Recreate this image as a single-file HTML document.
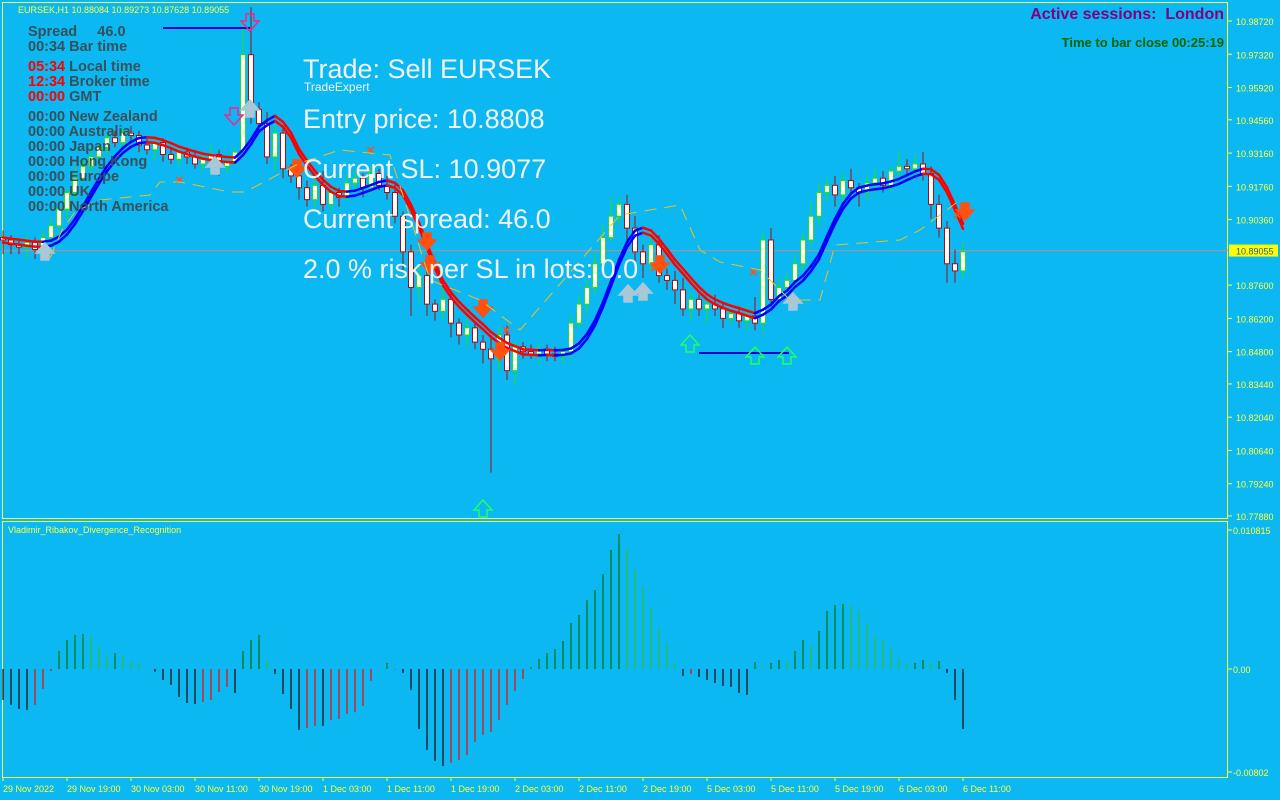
<!DOCTYPE html>
<html><head><meta charset="utf-8">
<style>
html,body{margin:0;padding:0;width:1280px;height:800px;overflow:hidden;background:#0cb8f2;font-family:"Liberation Sans",Arial,sans-serif;}
svg{position:absolute;left:0;top:0}
.info{position:absolute;font-weight:bold;font-size:14.5px;color:#37505a;white-space:nowrap;line-height:15px}
.red{color:#ff0000}
.big{position:absolute;left:303px;font-size:27px;color:#f2f2f2;white-space:nowrap}
</style></head>
<body>
<svg id="chart" width="1280" height="800"></svg>

<div class="info" style="left:28px;top:25px">Spread&nbsp;&nbsp;&nbsp;&nbsp;&nbsp;46.0</div>
<div class="info" style="left:28px;top:40px">00:34 Bar time</div>
<div class="info" style="left:28px;top:60px"><span class="red">05:34</span> Local time</div>
<div class="info" style="left:28px;top:75px"><span class="red">12:34</span> Broker time</div>
<div class="info" style="left:28px;top:90px"><span class="red">00:00</span> GMT</div>
<div class="info" style="left:28px;top:110px">00:00 New Zealand</div>
<div class="info" style="left:28px;top:125px">00:00 Australia</div>
<div class="info" style="left:28px;top:140px">00:00 Japan</div>
<div class="info" style="left:28px;top:155px">00:00 Hong Kong</div>
<div class="info" style="left:28px;top:170px">00:00 Europe</div>
<div class="info" style="left:28px;top:185px">00:00 UK</div>
<div class="info" style="left:28px;top:200px">00:00 North America</div>

<div class="big" style="top:54px">Trade: Sell EURSEK</div>
<div style="position:absolute;left:304px;top:80px;font-size:12px;color:#f2f2f2">TradeExpert</div>
<div class="big" style="top:104px">Entry price: 10.8808</div>
<div class="big" style="top:154px">Current SL: 10.9077</div>
<div class="big" style="top:204px">Current spread: 46.0</div>
<div class="big" style="top:254px">2.0 % risk per SL in lots: 0.0</div>

<div style="position:absolute;right:56px;top:6px;font-size:16px;font-weight:bold;color:#800080;white-space:nowrap">Active sessions:&nbsp; London</div>
<div style="position:absolute;right:56px;top:35px;font-size:13px;font-weight:bold;color:#006400;white-space:nowrap">Time to bar close 00:25:19</div>

<script>
// ---- data ----
const closes=[10.895,10.893,10.892,10.894,10.891,10.896,
10.901,10.908,10.915,10.921,10.926,10.930,10.934,10.938,10.936,10.940,10.939,
10.935,10.933,10.936,10.931,10.929,10.932,
10.930,10.927,10.929,10.931,10.926,10.928,10.932,
10.973,10.950,10.944,10.930,10.940,
10.925,10.922,10.917,10.912,10.918,10.910,
10.915,10.913,10.919,10.921,10.917,10.923,10.918,10.915,
10.905,10.890,10.875,10.880,
10.868,10.865,10.870,10.860,10.855,10.858,10.852,10.849,
10.845,10.855,10.840,10.850,
10.848,10.847,10.849,10.847,10.846,10.848,
10.860,10.868,10.875,10.885,10.896,10.905,10.910,
10.900,10.890,10.885,10.893,10.880,
10.878,10.874,10.866,10.870,10.866,10.868,
10.866,10.862,10.864,10.861,10.863,
10.860,10.895,10.870,10.875,
10.878,10.885,10.895,10.905,10.915,10.918,
10.914,10.920,10.917,10.915,10.919,10.921,10.918,10.924,10.926,10.925,10.927,10.923,
10.910,10.900,10.885,10.882,10.890];
const wickUp=[3,2,2,3,2,3, 3,4,2,5,3,4,2,2,3,2,3, 2,3,2,2,3,2, 2,3,2,4,2,3,2, 14,20,3,5,4, 3,2,4,3,5,6, 3,2,4,3,2,3,2,4, 4,2,3,4, 3,2,5,3,2,4,2,3, 6,3,4,2, 2,3,2,2,3,2, 3,4,3,5,6,8,3, 4,5,3,6,4, 3,4,5,3,2,3, 4,3,2,3,4, 8,3,5,4, 3,4,3,6,4,3, 4,3,5,2,3,4,3,2,6,3,4,5, 3,4,3,6,4];
const wickDn=[6,4,3,5,4,3, 3,2,4,3,2,3,4,3,2,3,2, 3,2,4,3,2,3, 3,2,3,2,4,3,2, 3,6,4,3,6, 4,3,5,3,4,3, 3,4,2,3,4,3,2,3, 3,8,12,6, 5,4,3,6,4,5,3,6, 48,5,4,6, 3,2,4,3,2,3, 3,2,4,3,3,2,4, 5,4,6,3,3, 4,6,3,5,3,6, 3,4,2,3,4, 3,4,3,2, 3,4,3,2,4,3, 5,4,3,6,3,4,3,3,4,2,3,3, 6,4,8,5,3];
const divVals=[-241,-280,-311,-319,-280,-156,-16,140,226,265,272,257,171,93,124,109,62,47,2,-23,
-86,-124,-218,-265,-272,-257,-241,-179,-140,-187,140,226,265,62,-39,-195,-311,-475,-459,-443,
-443,-397,-389,-350,-335,-288,-93,1,47,-2,-31,-163,-467,-630,-716,-755,-731,-708,-669,-568,
-513,-490,-397,-280,-171,-78,16,78,124,156,218,358,420,537,615,739,926,1050,934,770,
638,482,319,202,47,-54,-39,-62,-86,-109,-132,-140,-187,-202,54,16,47,70,62,140,
226,187,296,451,498,506,498,451,350,249,226,156,78,39,47,70,54,62,-31,-241,-467]; // x1e-5
const priceTicks=[10.98720,10.97320,10.95920,10.94560,10.93160,10.91760,10.90360,10.87600,10.86200,10.84800,10.83440,10.82040,10.80640,10.79240,10.77880];
const timeLabels=["29 Nov 2022","29 Nov 19:00","30 Nov 03:00","30 Nov 11:00","30 Nov 19:00","1 Dec 03:00","1 Dec 11:00","1 Dec 19:00","2 Dec 03:00","2 Dec 11:00","2 Dec 19:00","5 Dec 03:00","5 Dec 11:00","5 Dec 19:00","6 Dec 03:00","6 Dec 11:00"];
const currentPrice=10.89055;

// ---- axes ----
const svg=document.getElementById('chart');const NS='http://www.w3.org/2000/svg';
function X(i){return 3+8*i;}
function Y(p){return 21+(10.98720-p)*(495/0.2084);}
function YD(v){return 530+(0.010815-v*1e-5)*(242/0.018835);}
function mk(t,a,parent){const e=document.createElementNS(NS,t);for(const k in a)e.setAttribute(k,a[k]);(parent||svg).appendChild(e);return e;}

let e;
e=mk('rect',{x:2.5,y:2.5,width:1225,height:516,fill:'none',stroke:'#ffff40','stroke-width':1});

e=mk('rect',{x:2.5,y:521.5,width:1225,height:256,fill:'none',stroke:'#ffff40','stroke-width':1});


e=mk('text',{x:18,y:13,fill:'#ffff40','font-size':9,'font-family':'Liberation Sans'});e.textContent='EURSEK,H1  10.88084 10.89273 10.87628 10.89055';

e=mk('text',{x:8,y:533,fill:'#ffff40','font-size':9,'font-family':'Liberation Sans'});e.textContent='Vladimir_Ribakov_Divergence_Recognition';


priceTicks.forEach(p=>{const y=Y(p);
 e=mk('line',{x1:1228,x2:1232,y1:y,y2:y,stroke:'#ffff40'});
 
 e=mk('text',{x:1236,y:y+4,fill:'#ffff40','font-size':9,'font-family':'Liberation Sans'});e.textContent=p.toFixed(5);
 
});
e=mk('line',{x1:3,x2:1228,y1:Y(currentPrice),y2:Y(currentPrice),stroke:'#c08a8a','stroke-width':1});

e=mk('rect',{x:1229,y:Y(currentPrice)-6,width:49,height:12,fill:'#ffff00'});

e=mk('text',{x:1236,y:Y(currentPrice)+4,fill:'#2060a0','font-size':9,'font-family':'Liberation Sans'});e.textContent=currentPrice.toFixed(5);


[[0.010815,'0.010815'],[0,'0.00'],[-0.00802,'-0.00802']].forEach(t=>{const y=YD(t[0]*1e5);
 e=mk('line',{x1:1228,x2:1232,y1:y,y2:y,stroke:'#ffff40'});
 
 e=mk('text',{x:1233,y:y+4,fill:'#ffff40','font-size':9,'font-family':'Liberation Sans'});e.textContent=t[1];
 
});
timeLabels.forEach((t,k)=>{const x=X(k*8);
 e=mk('line',{x1:x,x2:x,y1:777,y2:781,stroke:'#ffff40'});
 
 e=mk('text',{x:x,y:792,fill:'#ffff40','font-size':9,'font-family':'Liberation Sans'});e.textContent=t;
 
});

closes.forEach((c,i)=>{const o=i?closes[i-1]:closes[0]+0.001;
 const hi=Math.max(o,c)+wickUp[i]*0.001, lo=Math.min(o,c)-wickDn[i]*0.001;
 const bull=c>=o;const col=bull?'#20e020':'#a01010';const x=X(i);
 const g=mk('g',{});
 
 mk('line',{x1:x,x2:x,y1:Y(hi),y2:Y(lo),stroke:col,'stroke-width':1},g);
 const yt=Y(Math.max(o,c)),yb=Y(Math.min(o,c));
 mk('rect',{x:x-2.5,y:yt,width:5,height:Math.max(1,yb-yt),fill:'#ffffff',stroke:col,'stroke-width':1},g);
});

const sm=closes.map((c,i)=>{let s=0,n=0;for(let k=Math.max(0,i-4);k<=i;k++){s+=closes[k];n++;}return s/n;});
const sm2=sm.map((c,i)=>{let s=0,n=0;for(let k=Math.max(0,i-2);k<=i;k++){s+=sm[k];n++;}return s/n;});
for(let i=1;i<sm2.length;i++){const up=sm2[i]>=sm2[i-1];const col=up?'#0000ff':'#ff0000';
 [-2.5,2.5].forEach(off=>{
  e=mk('line',{x1:X(i-1),x2:X(i),y1:Y(sm2[i-1])+off,y2:Y(sm2[i])+off,stroke:col,'stroke-width':2.5,'stroke-linecap':'round'});
  
  
 });
}

divVals.forEach((v,i)=>{const prev=i?divVals[i-1]:v;let col;
 if(v>=0)col=(v>=prev)?'#007000':'#30c030';else col=(v<=prev)?'#300000':'#ff0000';
 e=mk('line',{x1:X(i),x2:X(i),y1:YD(0),y2:YD(v),stroke:col,'stroke-width':1.2});
 
 
});

function arrowDown(x,y,col,fill){const p=`M${x-4},${y-12}h8v7h5l-9,10l-9,-10h5z`;return mk('path',{d:p,fill:fill,stroke:col,'stroke-width':1.5});}
function arrowUp(x,y,col,fill){const p=`M${x-4},${y+12}h8v-7h5l-9,-10l-9,10h5z`;return mk('path',{d:p,fill:fill,stroke:col,'stroke-width':1.5});}
e=mk('line',{x1:163,x2:250,y1:28,y2:28,stroke:'#0000d0','stroke-width':2});
e=mk('line',{x1:699,x2:789,y1:353,y2:353,stroke:'#0000d0','stroke-width':2});
[[250,26],[234,120]].forEach(a=>{e=arrowDown(a[0],a[1],'#ff2090','none');});
[[483,505],[690,340],[755,352],[787,352]].forEach(a=>{e=arrowUp(a[0],a[1],'#20ff60','none');});
[[297,172],[427,245],[483,312],[500,355],[660,268],[965,215],[430,268]].forEach(a=>{e=arrowDown(a[0],a[1],'#ff5010','#ff5010');});
[[250,105],[628,290],[643,288],[793,298],[215,162],[45,248]].forEach(a=>{e=arrowUp(a[0],a[1],'#a8c8d8','#a8c8d8');});
[[371,150],[507,330],[754,272],[180,180],[655,268],[958,215]].forEach(a=>{e=mk('text',{x:a[0]-5,y:a[1]+5,fill:'#ff5020','font-size':15,'font-weight':'bold','font-family':'Liberation Sans'});e.textContent='×';});
e=mk('polyline',{points:'50,258 62,230 75,212 100,200 150,195 160,182 180,182 230,192 245,192 300,163 340,150 390,155 430,280 480,300 520,330 620,215 680,205 700,250 720,262 760,270 790,300 820,300 835,245 900,240 920,230 960,200',fill:'none',stroke:'#f0c020','stroke-width':1,'stroke-dasharray':'12,8'});

</script>
</body></html>
